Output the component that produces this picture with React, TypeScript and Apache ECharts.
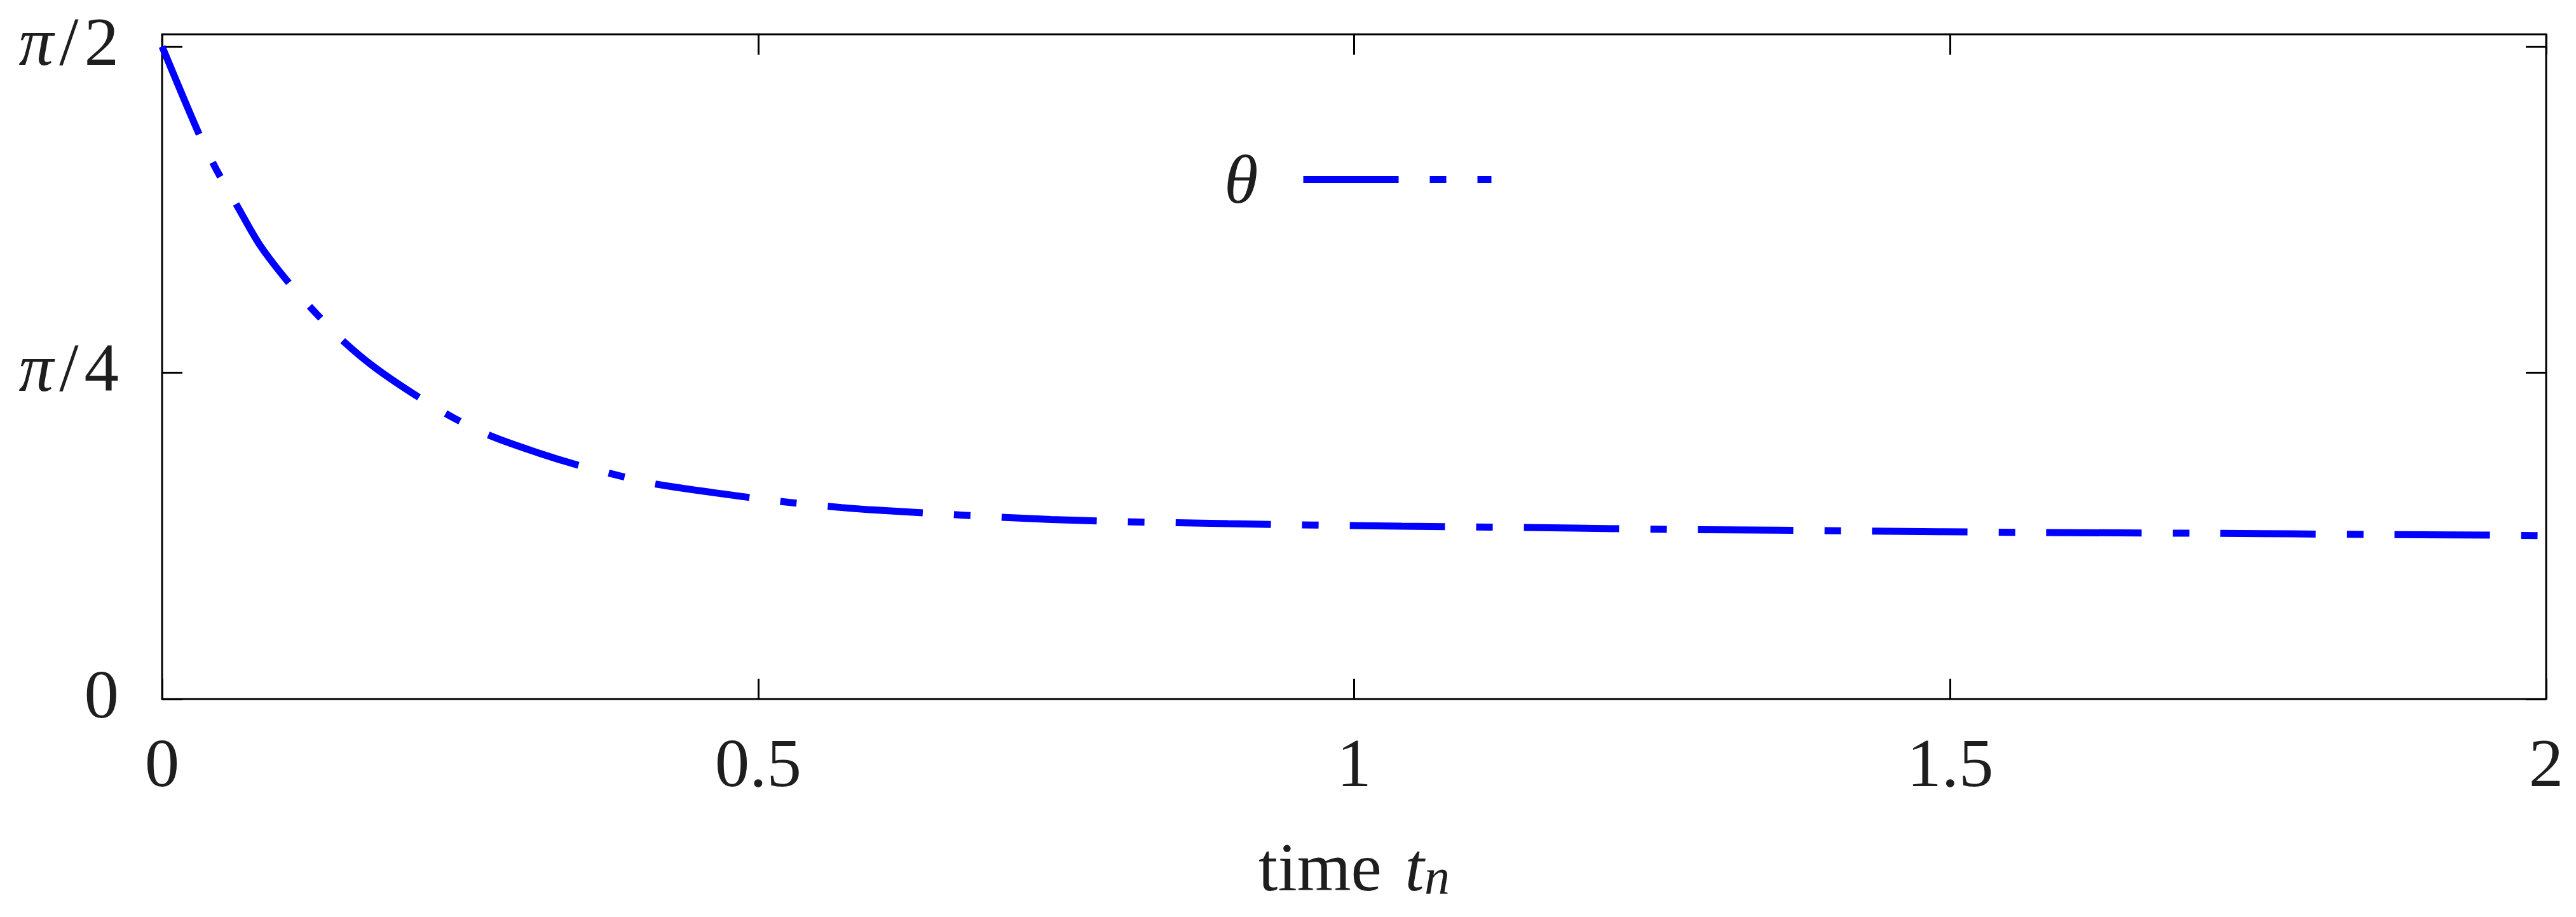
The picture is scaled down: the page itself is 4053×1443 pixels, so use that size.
import React, { useEffect, useRef } from 'react';
import * as echarts from 'echarts';

// time t_n (x) and theta values (y)
const timeValues = [
  0, 0.031, 0.046, 0.063, 0.082, 0.106, 0.129, 0.153, 0.179, 0.215, 0.245, 0.276,
  0.314, 0.349, 0.383, 0.417, 0.493, 0.527, 0.57, 0.598, 0.746, 0.894, 1.04, 1.185,
  1.274, 1.353, 1.421, 1.568, 1.714, 1.86, 1.981, 2.0,
];
const thetaValues = [
  1.5708, 1.36, 1.272, 1.187, 1.093, 1.003, 0.929, 0.859, 0.797, 0.727, 0.676, 0.633,
  0.594, 0.563, 0.538, 0.516, 0.485, 0.473, 0.461, 0.455, 0.432, 0.422, 0.416, 0.4115,
  0.408, 0.4065, 0.4045, 0.401, 0.399, 0.396, 0.394, 0.393,
];

const xTickValues = [0, 0.5, 1, 1.5, 2];
const xTickLabels = ['0', '0.5', '1', '1.5', '2'];
const yTickValues = [0, Math.PI / 4, Math.PI / 2];
const yTickLabels = ['{n|0}', '{p|π}{s|/}{n|4}', '{p|π}{s|/}{n|2}'];
const seriesName = 'θ';
const xAxisTitle = '{a|time}{sp| }{b|t}{c|n}';

const FONT = 'Liberation Serif';
const FS = 109;
const TXT = '#1e1e1e';
const LINE_W = 11;

export default function App() {
  const ref = useRef<HTMLDivElement>(null);
  useEffect(() => {
    document.body.style.margin = '0';
    const chart = echarts.init(ref.current as HTMLDivElement, null, { renderer: 'svg' });
    const data = timeValues.map((t, i) => [t, thetaValues[i]]);
    const tickStyle = { color: '#000', width: 3 };
    const yLabelFormatter = (v: number) => {
      const i = yTickValues.findIndex((y) => Math.abs(y - v) < 1e-6);
      return i >= 0 ? yTickLabels[i] : '';
    };
    chart.setOption({
      animation: false,
      backgroundColor: '#fff',
      grid: {
        left: 255,
        right: 47,
        top: 54,
        bottom: 341,
        show: true,
        borderColor: '#000',
        borderWidth: 3,
        backgroundColor: 'transparent',
      },
      legend: {
        show: true,
        data: [{ name: seriesName }],
        left: 1926,
        top: 228,
        align: 'right',
        itemWidth: 296,
        itemHeight: 12,
        padding: 0,
        lineStyle: { width: LINE_W, type: 'inherit', cap: 'butt' },
        itemStyle: { opacity: 0 },
        textStyle: {
          fontFamily: FONT,
          fontStyle: 'italic',
          fontSize: FS,
          lineHeight: FS,
          color: TXT,
          padding: [0, 66, 0, 0],
        },
      },
      xAxis: [
        {
          type: 'value',
          min: 0,
          max: 2,
          interval: 0.5,
          position: 'bottom',
          axisLine: { show: false, onZero: false },
          splitLine: { show: false },
          axisTick: { show: true, inside: true, length: 32, lineStyle: tickStyle },
          axisLabel: {
            margin: 46,
            fontFamily: FONT,
            fontSize: FS,
            lineHeight: FS,
            color: TXT,
            formatter: (v: number) => {
              const i = xTickValues.findIndex((x) => Math.abs(x - v) < 1e-9);
              return i >= 0 ? xTickLabels[i] : '';
            },
          },
          name: xAxisTitle,
          nameLocation: 'middle',
          nameGap: 210,
          nameTextStyle: {
            color: TXT,
            rich: {
              a: { fontFamily: FONT, fontSize: FS, lineHeight: FS, color: TXT },
              sp: { fontFamily: FONT, fontSize: FS * 1.35, lineHeight: FS, color: TXT },
              b: { fontFamily: FONT, fontStyle: 'italic', fontSize: FS, lineHeight: FS, color: TXT },
              c: {
                fontFamily: FONT,
                fontStyle: 'italic',
                fontSize: 80,
                lineHeight: FS,
                verticalAlign: 'bottom',
                color: TXT,
              },
            },
          },
        },
        {
          type: 'value',
          min: 0,
          max: 2,
          interval: 0.5,
          position: 'top',
          axisLine: { show: false, onZero: false },
          splitLine: { show: false },
          axisTick: { show: true, inside: true, length: 32, lineStyle: tickStyle },
          axisLabel: { show: false },
        },
      ],
      yAxis: [
        {
          type: 'value',
          min: 0,
          max: 1.6,
          position: 'left',
          axisLine: { show: false, onZero: false },
          splitLine: { show: false },
          axisTick: {
            show: true,
            inside: true,
            length: 32,
            lineStyle: tickStyle,
            customValues: yTickValues,
          },
          axisLabel: {
            margin: 68,
            customValues: yTickValues,
            formatter: yLabelFormatter,
            padding: [0, 0, 16, 0],
            rich: {
              n: { fontFamily: FONT, fontSize: FS, lineHeight: FS, color: TXT },
              p: { fontFamily: FONT, fontStyle: 'italic', fontSize: FS, lineHeight: FS, color: TXT },
              s: {
                fontFamily: FONT,
                fontSize: FS,
                lineHeight: FS,
                color: TXT,
                padding: [0, 9, 0, 9],
              },
            },
          },
        },
        {
          type: 'value',
          min: 0,
          max: 1.6,
          position: 'right',
          axisLine: { show: false, onZero: false },
          splitLine: { show: false },
          axisTick: {
            show: true,
            inside: true,
            length: 32,
            lineStyle: tickStyle,
            customValues: yTickValues,
          },
          axisLabel: { show: false },
        },
      ],
      series: [
        {
          name: seriesName,
          type: 'line',
          xAxisIndex: 0,
          yAxisIndex: 0,
          data,
          symbol: 'none',
          smooth: 0.3,
          clip: false,
          lineStyle: {
            color: '#0000ff',
            width: LINE_W,
            type: [150, 49, 26, 49],
            cap: 'butt',
          },
          itemStyle: { color: '#0000ff' },
        },
      ],
    });
    return () => chart.dispose();
  }, []);
  return <div ref={ref} style={{ width: 4053, height: 1443 }} />;
}
